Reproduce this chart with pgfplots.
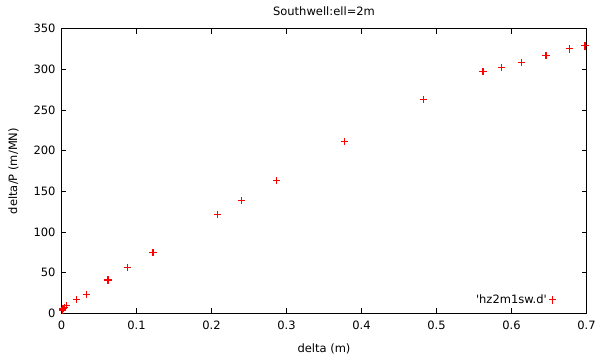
\documentclass[border=0pt]{standalone}
\usepackage{fontspec}
\setmainfont{DejaVu Sans}
\usepackage{pgfplots}
\pgfplotsset{compat=1.18}
\definecolor{gpred}{RGB}{255,0,0}
\begin{document}
\fontsize{11.5bp}{13bp}\selectfont
\begin{tikzpicture}
\useasboundingbox (-61.5bp,-40.7bp) rectangle (538.5bp,313.3bp);
\begin{axis}[
  at={(0,0)}, anchor=south west,
  scale only axis,
  width=525bp, height=284.6bp,
  xmin=0, xmax=0.7, ymin=0, ymax=350,
  xtick={0,0.1,...,0.7}, ytick={0,50,...,350},
  /pgf/number format/assume math mode=true,
  tick align=inside, major tick length=5bp,
  tick style={black, line width=0.6pt},
  axis line style={black, line width=0.8pt},
  title={Southwell:ell=2m},
  title style={at={(0.5,1)}, yshift=3bp},
  xlabel={delta (m)}, ylabel={delta/P (m/MN)},
  xlabel style={yshift=-6bp},
  ylabel style={yshift=7bp},
  xticklabel style={yshift=-4bp},
  yticklabel style={xshift=-2bp},
  legend style={draw=none, fill=none, at={(0.948,0.047)}, anchor=east, font=\fontsize{11.5bp}{13bp}\selectfont},
  legend plot pos=right,
  legend cell align=right,
  tick label style={font=\fontsize{11.5bp}{13bp}\selectfont},
]
\addplot[only marks, color=gpred, mark=+, mark size=3.6bp, line width=1.1bp] coordinates {
(0.001,4) (0.002,5.5) (0.004,7) (0.007,9.2) (0.020,16.6) (0.033,23.5)
(0.062,41) (0.088,56) (0.122,74.5) (0.208,121.3) (0.240,139) (0.287,163)
(0.377,211) (0.483,262.7) (0.562,297.2) (0.587,302.6) (0.613,308.7)
(0.646,317.3) (0.677,325.1) (0.698,328.8)
};
\addlegendentry{\textquotesingle hz2m1sw.d\textquotesingle}
\end{axis}
\end{tikzpicture}
\end{document}
